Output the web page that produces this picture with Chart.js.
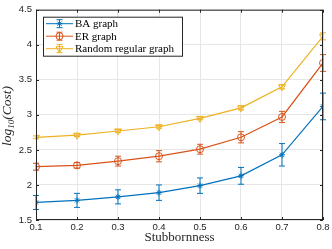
<!DOCTYPE html>
<html>
<head>
<meta charset="utf-8">
<script src="https://cdn.jsdelivr.net/npm/chart.js@4"></script>
<style>
  html, body { margin: 0; padding: 0; background: #fff; }
  #wrap { position: relative; width: 332px; height: 249px; }
  #ylab {
    position: absolute; left: 8px; top: 116px;
    transform: translate(-50%, -50%) rotate(-90deg);
    font-family: "Liberation Serif", serif; font-style: italic; font-weight: normal;
    font-size: 13.5px; white-space: nowrap; color: #262626; line-height: 1;
  }
  #ylab sub { font-size: 9px; vertical-align: -3px; }
</style>
</head>
<body>
<div id="wrap">
  <canvas id="c" width="332" height="249"></canvas>
  <div id="ylab">log<sub>10</sub>(Cost)</div>
</div>
<script>
const stubbornness = [0.1, 0.2, 0.3, 0.4, 0.5, 0.6, 0.7, 0.8];
const baCost = [1.75, 1.78, 1.83, 1.89, 1.99, 2.13, 2.43, 3.12];
const baErr  = [0.10, 0.10, 0.10, 0.11, 0.11, 0.12, 0.16, 0.19];
const erCost = [2.26, 2.28, 2.34, 2.41, 2.51, 2.68, 2.97, 3.74];
const erErr  = [0.05, 0.04, 0.07, 0.08, 0.07, 0.08, 0.08, 0.12];
const rrCost = [2.68, 2.71, 2.77, 2.83, 2.95, 3.10, 3.40, 4.12];
const rrErr  = [0.02, 0.02, 0.02, 0.02, 0.02, 0.03, 0.03, 0.05];
const seriesNames = ['BA graph', 'ER graph', 'Random regular graph'];
const yTicks = [1.5, 2, 2.5, 3, 3.5, 4, 4.5];

const blue = '#0072BD', red = '#D95319', yellow = '#EDB120';

function pts(ys) {
  return stubbornness.map((x, i) => ({ x: x, y: ys[i] }));
}

// error bars drawn from the dataset's err array
const errorBars = {
  id: 'errorBars',
  afterDatasetsDraw(chart) {
    const ctx = chart.ctx;
    const xs = chart.scales.x, ys = chart.scales.y;
    chart.data.datasets.forEach(ds => {
      ctx.save();
      ctx.strokeStyle = ds.borderColor;
      ctx.lineWidth = 1;
      ds.data.forEach((p, i) => {
        const e = ds.err[i];
        const px = xs.getPixelForValue(p.x);
        const top = ys.getPixelForValue(p.y + e);
        const bot = ys.getPixelForValue(p.y - e);
        ctx.beginPath();
        ctx.moveTo(px, top); ctx.lineTo(px, bot);
        ctx.moveTo(px - 3, top); ctx.lineTo(px + 3, top);
        ctx.moveTo(px - 3, bot); ctx.lineTo(px + 3, bot);
        ctx.stroke();
      });
      ctx.restore();
    });
  }
};

// box, inward ticks and legend
const frame = {
  id: 'frame',
  afterDraw(chart) {
    const ctx = chart.ctx;
    const a = chart.chartArea;
    const xs = chart.scales.x, ys = chart.scales.y;
    ctx.save();
    ctx.strokeStyle = '#262626';
    ctx.lineWidth = 1;
    ctx.strokeRect(a.left + 0.5, a.top + 0.5, a.right - a.left - 1, a.bottom - a.top - 1);
    ctx.beginPath();
    stubbornness.forEach(v => {
      const px = Math.round(xs.getPixelForValue(v)) + 0.5;
      ctx.moveTo(px, a.bottom); ctx.lineTo(px, a.bottom - 3);
      ctx.moveTo(px, a.top); ctx.lineTo(px, a.top + 3);
    });
    yTicks.forEach(v => {
      const py = Math.round(ys.getPixelForValue(v)) + 0.5;
      ctx.moveTo(a.left, py); ctx.lineTo(a.left + 3, py);
      ctx.moveTo(a.right, py); ctx.lineTo(a.right - 3, py);
    });
    ctx.stroke();

    // legend
    const lx = a.left + 7, ly = a.top + 7, lw = 139, lh = 39;
    ctx.fillStyle = '#fff';
    ctx.fillRect(lx, ly, lw, lh);
    ctx.strokeStyle = '#262626';
    ctx.strokeRect(lx + 0.5, ly + 0.5, lw, lh);
    ctx.font = '11px "Liberation Serif", serif';
    ctx.textBaseline = 'middle';
    chart.data.datasets.forEach((ds, i) => {
      const cy = ly + 7 + i * 12.5;
      const x0 = lx + 3, x1 = lx + 30, xm = (x0 + x1) / 2;
      ctx.strokeStyle = ds.borderColor;
      ctx.lineWidth = 1;
      ctx.beginPath();
      ctx.moveTo(x0, cy); ctx.lineTo(x1, cy);
      ctx.moveTo(xm, cy - 4); ctx.lineTo(xm, cy + 4);
      ctx.moveTo(xm - 3, cy - 4); ctx.lineTo(xm + 3, cy - 4);
      ctx.moveTo(xm - 3, cy + 4); ctx.lineTo(xm + 3, cy + 4);
      ctx.stroke();
      ctx.fillStyle = ds.pointBackgroundColor;
      ctx.strokeStyle = ds.borderColor;
      Chart.helpers.drawPoint(ctx, {
        pointStyle: ds.pointStyle, rotation: ds.pointRotation || 0,
        radius: ds.pointRadius, borderWidth: 1
      }, xm, cy);
      ctx.fillStyle = '#000';
      ctx.fillText(seriesNames[i], x1 + 2, cy + 0.5);
    });
    ctx.restore();
  }
};

new Chart(document.getElementById('c'), {
  type: 'line',
  data: {
    datasets: [
      { label: seriesNames[0], data: pts(baCost), err: baErr, borderColor: blue,
        pointStyle: 'star', pointRadius: 3, pointBackgroundColor: blue, pointBorderColor: blue },
      { label: seriesNames[1], data: pts(erCost), err: erErr, borderColor: red,
        pointStyle: 'circle', pointRadius: 3.5, pointBackgroundColor: 'rgba(0,0,0,0)', pointBorderColor: red },
      { label: seriesNames[2], data: pts(rrCost), err: rrErr, borderColor: yellow,
        pointStyle: 'triangle', pointRotation: 180, pointRadius: 4, pointBackgroundColor: 'rgba(0,0,0,0)', pointBorderColor: yellow }
    ].map(d => Object.assign({ borderWidth: 1.2, pointBorderWidth: 1, tension: 0, fill: false }, d))
  },
  options: {
    responsive: false,
    animation: false,
    layout: { padding: { left: 0, right: 9, top: 5, bottom: 0 } },
    plugins: { legend: { display: false }, tooltip: { enabled: false } },
    scales: {
      x: {
        type: 'linear', min: 0.1, max: 0.8,
        afterFit(s) { s.height = 29; },
        afterBuildTicks(s) { s.ticks = stubbornness.map(v => ({ value: v })); },
        ticks: { callback: v => v.toFixed(1), font: { family: 'Liberation Sans', size: 9.5 }, color: '#262626', padding: 2, maxRotation: 0 },
        grid: { color: '#e6e6e6', drawTicks: false },
        border: { display: false },
        title: { display: true, text: 'Stubbornness', font: { family: 'Liberation Serif', size: 13 }, color: '#262626', padding: { top: 0 } }
      },
      y: {
        min: 1.5, max: 4.5,
        afterFit(s) { s.width = 36; },
        afterBuildTicks(s) { s.ticks = yTicks.map(v => ({ value: v })); },
        ticks: { callback: v => String(v), font: { family: 'Liberation Sans', size: 9.5 }, color: '#262626', padding: 4 },
        grid: { color: '#e6e6e6', drawTicks: false },
        border: { display: false }
      }
    }
  },
  plugins: [errorBars, frame]
});
</script>
</body>
</html>
